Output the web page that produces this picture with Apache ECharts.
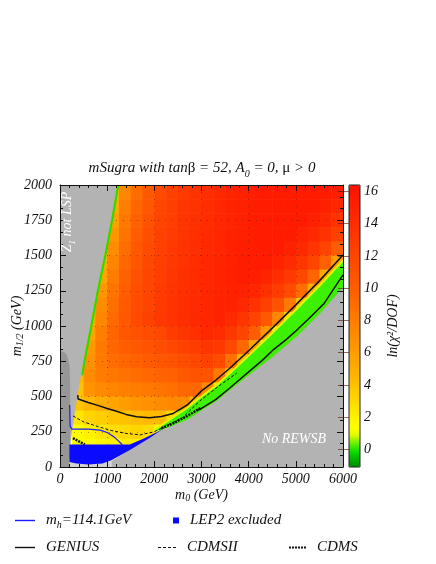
<!DOCTYPE html>
<html>
<head>
<meta charset="utf-8">
<script src="https://cdn.jsdelivr.net/npm/echarts@6/dist/echarts.min.js"></script>
<style>
html,body{margin:0;padding:0;background:#fff;}
#chart{width:436px;height:564px;}
</style>
</head>
<body>
<div id="chart"></div>
<script>
// cell centres of the ln(chi2/DOF) scan (m0 columns, m1/2 rows from top)
var m0Cells = [125,375,625,875,1125,1375,1625,1875,2125,2375,2625,2875,3125,3375,3625,3875,4125,4375,4625,4875,5125,5375,5625,5875];
var m12Cells = [1950,1850,1750,1650,1550,1450,1350,1250,1150,1050,950,850,750,650,550,450,350,250,150,50];
var lnChi2Rows = [
  [null,null,null,null,5.0,7.4,9.0,10.3,11.6,12.3,13.0,13.5,13.9,14.3,14.7,15.0,15.2,15.4,15.5,15.5,15.5,15.5,15.5,15.2],
  [null,null,null,null,5.3,7.9,9.4,10.6,11.9,12.5,13.2,13.6,14.0,14.4,14.8,15.0,15.3,15.4,15.5,15.5,15.5,15.5,15.1,14.6],
  [null,null,null,null,5.8,8.2,9.7,10.9,12.1,12.6,13.3,13.7,14.1,14.5,14.8,15.1,15.3,15.4,15.5,15.5,15.5,15.1,14.5,13.6],
  [null,null,null,null,6.4,8.6,10.0,11.2,12.3,12.8,13.4,13.8,14.2,14.6,14.9,15.1,15.3,15.4,15.5,15.5,15.0,14.4,13.5,12.3],
  [null,null,null,5.0,7.0,9.0,10.3,11.5,12.4,13.0,13.5,13.9,14.3,14.6,15.0,15.2,15.4,15.5,15.5,14.9,14.3,13.4,12.1,10.0],
  [null,null,null,5.2,7.5,9.3,10.6,11.8,12.5,13.1,13.6,14.0,14.4,14.7,15.0,15.3,15.4,15.3,14.8,14.2,13.2,12.0,9.8,5.8],
  [null,null,null,5.6,8.0,9.7,10.9,12.0,12.6,13.2,13.7,14.1,14.4,14.8,15.1,15.3,15.2,14.7,13.9,13.0,11.8,9.5,5.2,0.5],
  [null,null,null,6.4,8.5,10.0,11.2,12.0,12.8,13.3,13.8,14.1,14.5,14.8,15.0,15.0,14.6,13.7,12.7,11.5,9.0,4.8,0.5,0],
  [null,null,5.0,7.0,8.9,10.2,11.4,12.1,13.0,13.5,13.9,14.2,14.6,14.9,14.9,14.4,13.6,12.4,10.9,8.3,4.0,0.5,0,0],
  [null,null,5.2,7.4,9.2,10.4,11.6,12.3,13.1,13.6,13.9,14.3,14.6,14.9,14.2,13.3,12.2,10.4,7.3,3.0,0.5,0,0,0],
  [null,null,5.6,7.9,9.5,10.6,11.0,11.4,11.8,12.8,13.3,13.8,14.3,14.1,13.1,12.0,9.9,6.3,2.5,0.5,0,0,0,0],
  [null,null,6.2,8.2,9.4,10.0,10.4,10.8,11.3,11.8,12.3,12.8,13.3,13.0,11.7,9.3,5.5,1.5,0,0,0,0,0,0],
  [null,4.5,6.8,8.3,9.0,9.4,9.8,10.2,10.5,10.8,11.3,11.8,12.3,11.5,8.8,4.5,1.0,0,0,0,0,0,0,0],
  [null,4.3,7.0,8.0,8.4,8.7,9.0,9.3,9.6,9.8,10.3,10.8,10.8,8.3,3.8,0.5,0,0,0,0,0,0,0,0],
  [null,4.0,6.6,7.2,7.5,7.8,8.0,8.3,8.6,8.8,9.3,9.3,7.0,3.0,0.5,0,0,0,0,0,0,0,0,0],
  [null,3.9,4.5,5.0,5.5,6.0,6.5,6.8,7.0,7.3,7.0,4.5,2.5,0.5,0,0,0,0,0,0,0,0,0,0],
  [null,2.5,3.2,3.5,3.8,4.0,4.2,4.3,4.3,3.0,0.5,0,0,0,0,0,0,0,0,0,0,0,0,0],
  [null,1.5,2.0,2.5,2.8,3.0,3.2,3.0,1.5,0.3,0,0,0,0,0,0,0,0,0,0,0,0,0,0],
  [null,1.2,1.5,1.8,2.0,2.2,2.2,2.0,1.0,0,0,0,0,0,0,0,0,0,0,0,0,0,0,0],
  [null,null,null,null,null,null,null,null,null,null,null,null,null,null,null,null,null,null,null,null,null,null,null,null]
];

// excluded regions and band boundaries [m0, m1/2]
var lspEdge = [[1210,2000],[1080,1750],[935,1500],[780,1250],[640,1000],[495,750],[370,500],[255,250],[215,150],[205,0]];
var lspGreenEdge = [[1235,2000],[1105,1750],[960,1500],[804,1250],[664,1000],[520,750],[470,650]];
var rewsbEdge = [[2150,262],[2400,295],[2700,335],[3000,400],[3300,463],[3600,545],[4000,650],[4500,780],[5000,920],[5500,1085],[6000,1275]];
var bandTop = [[1950,250],[2300,330],[2700,420],[3000,500],[3300,575],[3600,665],[4000,790],[4500,950],[5000,1115],[5500,1285],[6000,1465]];
var lep2Region = [[200,160],[1480,160],[1800,205],[2100,255],[2300,292],[2150,262],[1900,205],[1500,125],[1100,50],[900,25],[600,18],[350,25],[200,35]];
var darkStrip = [[0,0],[0,820],[80,818],[150,790],[200,720],[215,600],[215,0]];
var lightPatch = [[200,0],[1100,0],[1100,60],[200,60]];

// contours
var mhContour = [[205,440],[215,290],[250,268],[600,268],[850,262],[1000,245],[1150,212],[1250,182],[1320,158]];
var geniusUpper = [[375,510],[385,482],[600,458],[800,437],[1000,415],[1200,395],[1400,373],[1625,357],[1900,350],[2150,358],[2400,380],[2700,440],[3000,540],[3300,615],[3600,700],[4000,825],[4500,985],[5000,1150],[5500,1320],[6000,1503]];
var geniusLower = [[2900,400],[3000,415],[3300,478],[3600,560],[4000,675],[4300,760],[4500,825],[4800,905],[5000,965],[5300,1060],[5600,1160],[6000,1362]];
var cdmsiiLine = [[275,362],[500,320],[800,287],[1100,258],[1400,238],[1700,228],[2000,250],[2300,300],[2600,350],[2968,470],[3350,570],[3745,665]];
var cdmsLine = [[275,205],[400,182],[525,160],'-',[2150,275],[2400,310],[2700,362],[3000,422]];

var colorTicks = [0,2,4,6,8,10,12,14,16];
var colorStops = ['#008c00','#00b400','#10e000','#70f000','#e8fc00','#ffff00','#fff400','#ffe800','#ffdc00','#ffd000',
  '#ffc400','#ffb800','#ffae00','#ffa600','#ff9e00','#ff9600','#ff8e00','#ff8600','#ff7e00','#ff7600',
  '#ff6e00','#ff6600','#ff5e00','#ff5800','#ff5200','#ff4c00','#ff4600','#ff4000','#ff3a00','#ff3400',
  '#ff2e00','#ff2800','#ff2200','#ff1c00','#ff1600','#ff1000'];

var FONT = 'Liberation Serif';
var cellW = 250, cellH = 100;

var heatData = [];
for (var r = 0; r < m12Cells.length; r++) {
  for (var c = 0; c < m0Cells.length; c++) {
    var v = lnChi2Rows[r][c];
    if (v !== null) heatData.push([m0Cells[c], m12Cells[r], v]);
  }
}

function region(name, pts, color, z) {
  return {
    type: 'custom', name: name, z: z, silent: true, clip: true,
    itemStyle: {color: color},
    data: pts,
    renderItem: function (params, api) {
      if (params.dataIndex !== 0) return null;
      return {
        type: 'polygon',
        shape: {points: pts.map(function (p) { return api.coord(p); })},
        style: {fill: color}
      };
    }
  };
}

function contour(name, pts, color, width, type, z) {
  return {
    type: 'line', name: name, z: z || 6, silent: true, clip: true, color: color,
    showSymbol: false, symbol: 'none', connectNulls: false,
    lineStyle: {color: color, width: width, type: type},
    data: pts
  };
}

function plain(v) { return '' + v; }

var rich = {
  i: {fontFamily: FONT, fontStyle: 'italic', fontWeight: 'normal', fontSize: 14, color: '#111', lineHeight: 16},
  u: {fontFamily: FONT, fontWeight: 'normal', fontSize: 15, color: '#111', lineHeight: 16},
  s: {fontFamily: FONT, fontStyle: 'italic', fontWeight: 'normal', fontSize: 10, color: '#111', lineHeight: 8, verticalAlign: 'bottom'}
};
var richT = {
  i: {fontFamily: FONT, fontStyle: 'italic', fontWeight: 'normal', fontSize: 15, color: '#111', lineHeight: 22},
  u: {fontFamily: FONT, fontWeight: 'normal', fontSize: 15, color: '#111', lineHeight: 22},
  s: {fontFamily: FONT, fontStyle: 'italic', fontWeight: 'normal', fontSize: 10, color: '#111', lineHeight: 10, verticalAlign: 'bottom'}
};
var labelStyle = {fontFamily: FONT, fontStyle: 'italic', fontSize: 14, color: '#111', formatter: plain};

var rewsbRegion = [[1000,0],[6000,0]].concat(rewsbEdge.slice().reverse()).concat([[1100,45],[1000,30]]);
var lspRegion = [[0,2000]].concat(lspEdge).concat([[0,0]]);
var bandRegion = bandTop.concat(rewsbEdge.slice().reverse());

function legendItem(name, icon, left, top, w, h) {
  return {
    data: [{name: name, icon: icon}], left: left, top: top, padding: 0,
    itemWidth: w, itemHeight: h, selectedMode: false,
    formatter: function (n) { return n === 'mh' ? '{i|m}{s|h}{i|=114.1GeV}' : '{i|' + n + '}'; },
    textStyle: {padding: [0, 0, 0, 6], rich: {
      i: {fontFamily: FONT, fontStyle: 'italic', fontSize: 15, color: '#111', lineHeight: 20},
      s: {fontFamily: FONT, fontStyle: 'italic', fontSize: 10, color: '#111', lineHeight: 10, verticalAlign: 'bottom'}
    }}
  };
}

var option = {
  animation: false,
  backgroundColor: '#fff',
  title: {
    text: '{i|mSugra with tan}{u|\u03b2}{i| = 52, A}{s|0}{i| = 0, }{u|\u03bc}{i| > 0}',
    left: 202, top: 157, textAlign: 'center', padding: 0,
    textStyle: {fontWeight: 'normal', rich: richT}
  },
  legend: [
    legendItem('mh', 'path://M0,0H20V1.4H0Z', 15, 513, 20, 1.4),
    legendItem('LEP2 excluded', 'rect', 173, 513, 6, 6),
    legendItem('GENIUS', 'path://M0,0H20V1.4H0Z', 15, 540, 20, 1.4),
    legendItem('CDMSII', 'path://M0,0H3V1H0Z M5,0H8V1H5Z M10,0H13V1H10Z M15,0H18V1H15Z', 158, 540, 18, 1),
    legendItem('CDMS', 'path://M0,0H2V2H0Z M3,0H5V2H3Z M6,0H8V2H6Z M9,0H11V2H9Z M12,0H14V2H12Z M15,0H17V2H15Z', 289, 540, 17, 2)
  ],
  grid: [
    {left: 60, top: 185, width: 283, height: 282, outerBoundsMode: 'none', containLabel: false},
    {left: 349, top: 185, width: 11, height: 282, show: true, z: 10, outerBoundsMode: 'none', containLabel: false,
     backgroundColor: 'transparent', borderColor: '#222', borderWidth: 1}
  ],
  xAxis: [
    {type: 'value', gridIndex: 0, min: 0, max: 6000, interval: 1000, position: 'bottom', z: 8,
     axisLine: {onZero: false, lineStyle: {color: '#111'}},
     axisTick: {inside: true, length: 6, lineStyle: {color: '#111'}},
     minorTick: {show: true, splitNumber: 5, length: 3, lineStyle: {color: '#111'}},
     axisLabel: Object.assign({margin: 5}, labelStyle),
     splitLine: {show: false},
     name: '{i|m}{s|0}{i| (GeV)}', nameLocation: 'middle', nameGap: 20, nameMoveOverlap: false,
     nameTextStyle: {rich: rich}},
    {type: 'value', gridIndex: 0, min: 0, max: 6000, interval: 1000, position: 'top', z: 8,
     axisLine: {onZero: false, lineStyle: {color: '#111'}},
     axisTick: {inside: true, length: 6, lineStyle: {color: '#111'}},
     minorTick: {show: true, splitNumber: 5, length: 3, lineStyle: {color: '#111'}},
     axisLabel: {show: false}, splitLine: {show: false}},
    {type: 'value', gridIndex: 0, min: 0, max: 6000, interval: 1000, position: 'bottom', z: 2,
     axisLine: {show: false}, axisTick: {show: false}, axisLabel: {show: false},
     splitLine: {show: true, lineStyle: {color: 'rgba(90,20,0,0.45)', width: 1, type: [1, 6]}}},
    {type: 'value', gridIndex: 1, show: false, min: 0, max: 1}
  ],
  yAxis: [
    {type: 'value', gridIndex: 0, min: 0, max: 2000, interval: 250, position: 'left', z: 8,
     axisLine: {onZero: false, lineStyle: {color: '#111'}},
     axisTick: {inside: true, length: 6, lineStyle: {color: '#111'}},
     minorTick: {show: true, splitNumber: 3, length: 3, lineStyle: {color: '#111'}},
     axisLabel: Object.assign({margin: 8}, labelStyle),
     splitLine: {show: false},
     name: '{i|m}{s|1/2}{i| (GeV)}', nameLocation: 'middle', nameGap: 35, nameMoveOverlap: false,
     nameTextStyle: {rich: rich}},
    {type: 'value', gridIndex: 0, min: 0, max: 2000, interval: 250, position: 'right', z: 8,
     axisLine: {onZero: false, lineStyle: {color: '#111'}},
     axisTick: {inside: true, length: 6, lineStyle: {color: '#111'}},
     minorTick: {show: true, splitNumber: 3, length: 3, lineStyle: {color: '#111'}},
     axisLabel: {show: false}, splitLine: {show: false}},
    {type: 'value', gridIndex: 0, min: 0, max: 2000, interval: 250, position: 'left', z: 2,
     axisLine: {show: false}, axisTick: {show: false}, axisLabel: {show: false},
     splitLine: {show: true, lineStyle: {color: 'rgba(90,20,0,0.45)', width: 1, type: [1, 6]}}},
    {type: 'value', gridIndex: 1, min: -1.1, max: 16.4, position: 'right', z: 11,
     axisLine: {show: false},
     axisTick: {show: true, inside: true, length: 11, customValues: colorTicks,
                lineStyle: {color: 'rgba(70,20,0,0.6)'}},
     axisLabel: Object.assign({margin: 4, customValues: colorTicks}, labelStyle),
     splitLine: {show: false},
     name: '{i|ln(\u03c7\u00b2/DOF)}', nameLocation: 'middle', nameGap: 25, nameRotate: 90, nameMoveOverlap: false,
     nameTextStyle: {rich: rich}}
  ],
  visualMap: {
    type: 'continuous', seriesIndex: 0, dimension: 2, min: -1.1, max: 16.4,
    calculable: false, hoverLink: false, padding: 0,
    left: 349, top: 185, itemWidth: 11, itemHeight: 282,
    inRange: {color: colorStops}
  },
  series: [
    {type: 'custom', name: 'lnChi2', z: 1, silent: true, clip: true,
     data: heatData, encode: {x: 0, y: 1},
     renderItem: function (params, api) {
       var x = api.value(0), y = api.value(1);
       var a = api.coord([x - cellW / 2, y + cellH / 2]);
       var b = api.coord([x + cellW / 2, y - cellH / 2]);
       return {type: 'rect',
         shape: {x: a[0], y: a[1], width: b[0] - a[0] + 0.6, height: b[1] - a[1] + 0.6},
         style: {fill: api.visual('color')}};
     }},
    region('band', bandRegion, '#3cf000', 3),
    contour('bandEdge', bandTop, '#e4f500', 2, 'solid', 3),
    region('lsp', lspRegion, '#b3b3b3', 4),
    region('rewsb', rewsbRegion, '#b3b3b3', 4),
    region('dark', darkStrip, '#969696', 4),
    region('light', lightPatch, '#d2d2d2', 4),
    region('LEP2 excluded', lep2Region, '#0a0aff', 5),
    contour('lspGreen', lspGreenEdge, '#22e000', 2, 'solid'),
    contour('mh', mhContour, '#1a1aff', 1.2, 'solid'),
    contour('GENIUS', geniusUpper, '#111', 1.5, 'solid'),
    contour('GENIUS', geniusLower, '#111', 1.5, 'solid'),
    contour('CDMSII', cdmsiiLine, '#111', 1, [3, 2]),
    contour('CDMS', cdmsLine, '#111', 2.5, [2, 1])
  ],
  graphic: [
    {type: 'text', x: 67, y: 222, rotation: Math.PI / 2, z: 100, silent: true,
     style: {text: '{t|Z\u0303}{s|1}{t| not LSP}', align: 'center', verticalAlign: 'middle',
       rich: {t: {fontFamily: FONT, fontStyle: 'italic', fontSize: 14, fill: '#fff', lineHeight: 20},
              s: {fontFamily: FONT, fontStyle: 'italic', fontSize: 9, fill: '#fff', lineHeight: 9, verticalAlign: 'bottom'}}}},
    {type: 'text', x: 294, y: 439, z: 100, silent: true,
     style: {text: 'No REWSB', fontFamily: FONT, fontStyle: 'italic', fontSize: 14, fill: '#fff',
       align: 'center', verticalAlign: 'middle'}}
  ]
};

var chart = echarts.init(document.getElementById('chart'));
chart.setOption(option);
</script>
</body>
</html>
